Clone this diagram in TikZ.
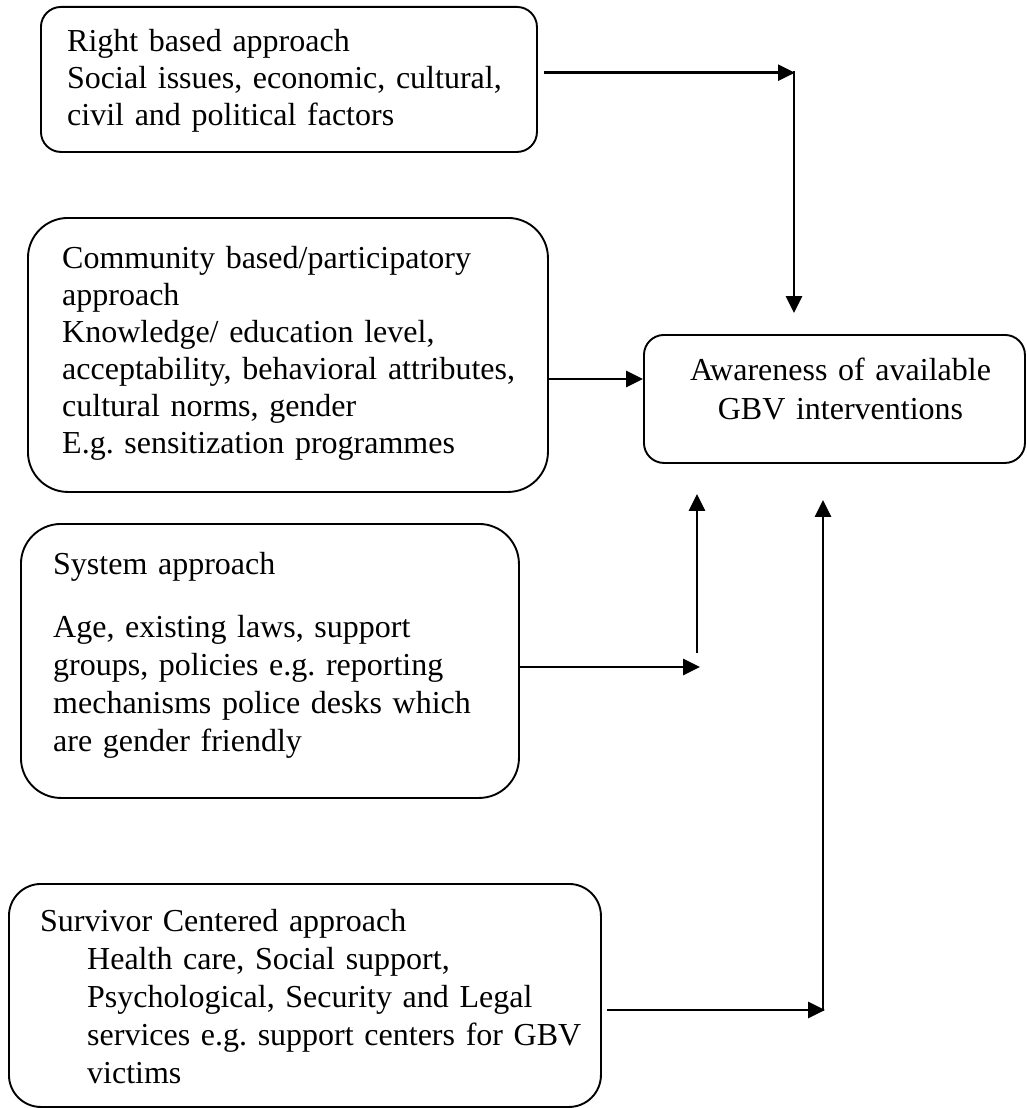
\documentclass[tikz,border=0pt]{standalone}
\usepackage{fontspec}
\setmainfont{Liberation Serif}
\usetikzlibrary{arrows.meta}
\frenchspacing
\begin{document}
\begin{tikzpicture}[x=1pt,y=-1pt,
  box/.style={draw=black, line width=1.9pt, rounded corners=#1, inner sep=0pt, anchor=north west},
  txt/.style={inner sep=0pt, anchor=base west, align=left, text width=600pt, font=\fontsize{32}{37}\selectfont\frenchspacing},
  txtb/.style={txt, font=\fontsize{32}{38}\selectfont\frenchspacing},
  arr/.style={line width=2.7pt, -{Triangle[length=17pt,width=16pt]}}]
\useasboundingbox (0,0) rectangle (1026,1108);

% boxes
\node[box=20pt, minimum width=496pt, minimum height=145pt] (rb) at (40,6) {};
\node[box=40pt, minimum width=520pt, minimum height=274pt] (cb) at (27,217) {};
\node[box=20pt, minimum width=381pt, minimum height=128pt] (aw) at (643,334) {};
\node[box=40pt, minimum width=498pt, minimum height=274pt] (sa) at (20,523) {};
\node[box=32pt, minimum width=592pt, minimum height=223pt] (sc) at (8,883) {};

% texts
\node[txt] (t1) at (67,52) {Right based approach\\Social issues, economic, cultural,\\civil and political factors};
\node[txt] (t2) at (62,268) {Community based/participatory\\approach\\Knowledge/ education level,\\acceptability, behavioral attributes,\\cultural norms, gender\\E.g. sensitization programmes};
\node[txtb] (t3) at (53,574) {System approach\\[25pt]Age, existing laws, support\\groups, policies e.g. reporting\\mechanisms police desks which\\are gender friendly};
\node[txtb] (t4) at (40,931) {Survivor Centered approach\\\hspace*{47pt}Health care, Social support,\\\hspace*{47pt}Psychological, Security and Legal\\\hspace*{47pt}services e.g. support centers for GBV\\\hspace*{47pt}victims};
\node[txt, anchor=base, align=center, text width=380pt, font=\fontsize{32}{39}\selectfont] (t5) at (840.5,380) {Awareness of available\\GBV interventions};

% connectors
\coordinate (j1) at (795,72.7);
\draw[arr, shorten <=6pt] (rb.east |- j1) -- (j1);
\coordinate (j1b) at (794,71.4);
\draw[arr, shorten >=21pt] (j1b) -- (aw.north -| j1b);

\draw[arr] (cb.east |- 0,379) -- (aw.west |- 0,379);

\coordinate (j3) at (700,667);
\draw[arr] (sa.east |- j3) -- (j3);
\coordinate (j3b) at (697,653);
\draw[arr, shorten >=30pt] (j3b) -- (aw.south -| j3b);

\coordinate (j4) at (825,1010);
\draw[arr, shorten <=5pt] (sc.east |- j4) -- (j4);
\coordinate (j4b) at (823,1011.3);
\draw[arr, shorten >=36pt] (j4b) -- (aw.south -| j4b);
\end{tikzpicture}
\end{document}
